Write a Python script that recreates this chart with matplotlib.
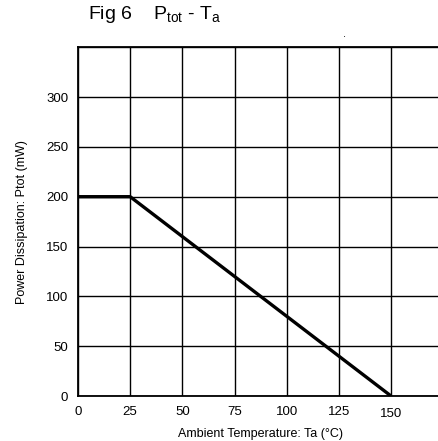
import matplotlib
matplotlib.use('Agg')
import matplotlib.pyplot as plt

plt.rcParams['font.family'] = ['Liberation Sans', 'DejaVu Sans']
plt.rcParams['mathtext.fontset'] = 'custom'
plt.rcParams['mathtext.rm'] = 'Liberation Sans'

ta = [0, 25, 150]
ptot = [200, 200, 0]
xticks = [0, 25, 50, 75, 100, 125, 150]
yticks = [0, 50, 100, 150, 200, 250, 300]

fig = plt.figure(figsize=(4.38, 4.41), dpi=100)
ax = fig.add_axes([0.178, 0.102, 0.834, 0.791])

ax.plot(ta, ptot, color='black', linewidth=2.4, solid_capstyle='butt', zorder=3)
ax.set_xlim(0, 175)
ax.set_ylim(0, 350)
ax.set_xticks([0, 25, 50, 75, 100, 125, 150, 175])
ax.set_xticklabels([str(t) for t in xticks] + [''])
ax.set_yticks(yticks + [350])
ax.set_yticklabels([str(t) for t in yticks] + [''])
ax.grid(True, color='black', linewidth=1.0)
ax.tick_params(length=0, labelsize=9.5, pad=7)
# the 150 label sits a little lower in the original
ax.get_xticklabels()[6].set_y(-0.006)
for sp in ax.spines.values():
    sp.set_linewidth(1.3)
ax.set_xlabel('Ambient Temperature: Ta (°C)', fontsize=9, labelpad=6)
ax.set_ylabel('Power Dissipation: Ptot (mW)', fontsize=9, labelpad=13)

fig.text(0.20, 0.99, r'Fig 6    P$_{\rm tot}$ - T$_{\rm a}$', fontsize=14, va='top')
fig.text(0.783, 0.915, '.', fontsize=8)

fig.savefig('out.png', dpi=100, facecolor='white')
